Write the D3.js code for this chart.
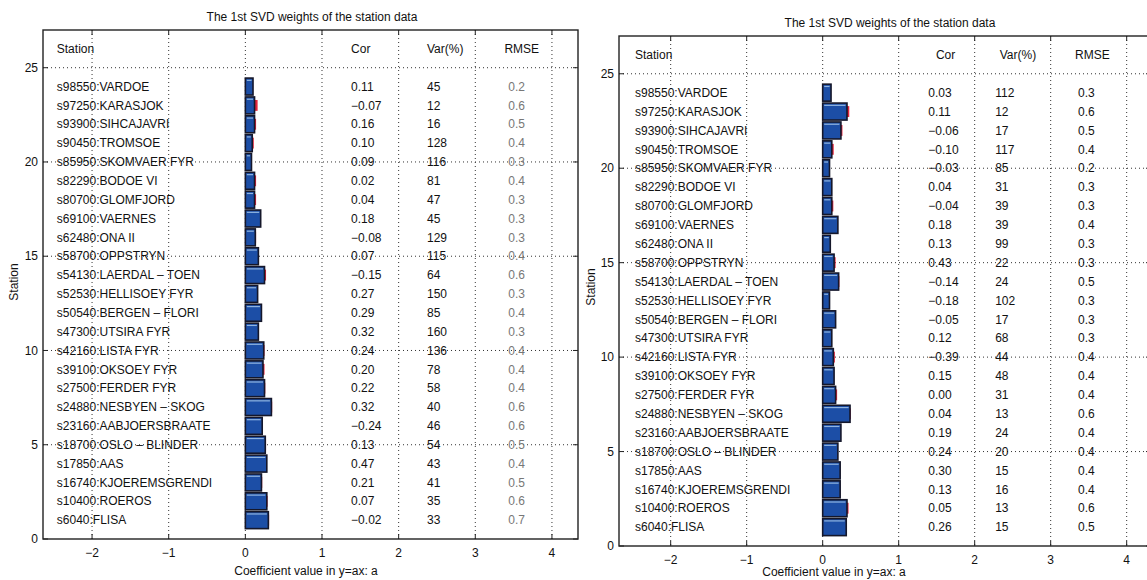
<!DOCTYPE html>
<html>
<head>
<meta charset="utf-8">
<script src="https://cdn.jsdelivr.net/npm/d3@7"></script>
<style>
  body { margin: 0; background: #fff; }
  text { font-family: "Liberation Sans", Arial, sans-serif; fill: #111; }
  .grid line { stroke: #333; stroke-width: 1; stroke-dasharray: 1,3; }
</style>
</head>
<body>
<svg id="chart" width="1147" height="580"></svg>
<script>
// station names, top row first
var stations = ["s98550:VARDOE", "s97250:KARASJOK", "s93900:SIHCAJAVRI", "s90450:TROMSOE",
  "s85950:SKOMVAER FYR", "s82290:BODOE VI", "s80700:GLOMFJORD", "s69100:VAERNES",
  "s62480:ONA II", "s58700:OPPSTRYN", "s54130:LAERDAL \u2013 TOEN", "s52530:HELLISOEY FYR",
  "s50540:BERGEN \u2013 FLORI", "s47300:UTSIRA FYR", "s42160:LISTA FYR", "s39100:OKSOEY FYR",
  "s27500:FERDER FYR", "s24880:NESBYEN \u2013 SKOG", "s23160:AABJOERSBRAATE", "s18700:OSLO \u2013 BLINDER",
  "s17850:AAS", "s16740:KJOEREMSGRENDI", "s10400:ROEROS", "s6040:FLISA"];

var xTicks = [-2, -1, 0, 1, 2, 3, 4];
var yTicks = [0, 5, 10, 15, 20, 25];
var headers = ["Cor", "Var(%)", "RMSE"];

// left figure
var leftCor = [0.11, -0.07, 0.16, 0.10, 0.09, 0.02, 0.04, 0.18, -0.08, 0.07, -0.15, 0.27,
  0.29, 0.32, 0.24, 0.20, 0.22, 0.32, -0.24, 0.13, 0.47, 0.21, 0.07, -0.02];
var leftVar = [45, 12, 16, 128, 116, 81, 47, 45, 129, 115, 64, 150,
  85, 160, 136, 78, 58, 40, 46, 54, 43, 41, 35, 33];
var leftRmse = [0.2, 0.6, 0.5, 0.4, 0.3, 0.4, 0.3, 0.3, 0.3, 0.4, 0.6, 0.3,
  0.4, 0.3, 0.4, 0.4, 0.4, 0.6, 0.6, 0.5, 0.4, 0.5, 0.6, 0.7];
var leftWeight = [0.10, 0.12, 0.12, 0.09, 0.08, 0.12, 0.12, 0.20, 0.13, 0.17, 0.25, 0.16,
  0.21, 0.17, 0.24, 0.23, 0.25, 0.34, 0.22, 0.26, 0.28, 0.21, 0.28, 0.30];
var leftUpper = [0.10, 0.16, 0.14, 0.11, 0.08, 0.14, 0.14, 0.20, 0.14, 0.17, 0.27, 0.16,
  0.21, 0.17, 0.25, 0.25, 0.26, 0.35, 0.22, 0.27, 0.28, 0.22, 0.29, 0.31];

// right figure
var rightCor = [0.03, 0.11, -0.06, -0.10, -0.03, 0.04, -0.04, 0.18, 0.13, 0.43, -0.14, -0.18,
  -0.05, 0.12, -0.39, 0.15, 0.00, 0.04, 0.19, 0.24, 0.30, 0.13, 0.05, 0.26];
var rightVar = [112, 12, 17, 117, 85, 31, 39, 39, 99, 22, 24, 102,
  17, 68, 44, 48, 31, 13, 24, 20, 15, 16, 13, 15];
var rightRmse = [0.3, 0.6, 0.5, 0.4, 0.2, 0.3, 0.3, 0.4, 0.3, 0.3, 0.5, 0.3,
  0.3, 0.3, 0.4, 0.4, 0.4, 0.6, 0.4, 0.4, 0.4, 0.4, 0.6, 0.5];
var rightWeight = [0.11, 0.32, 0.24, 0.12, 0.09, 0.12, 0.12, 0.20, 0.10, 0.15, 0.21, 0.09,
  0.17, 0.12, 0.14, 0.15, 0.17, 0.36, 0.24, 0.20, 0.23, 0.23, 0.32, 0.31];
var rightUpper = [0.11, 0.35, 0.26, 0.145, 0.09, 0.12, 0.14, 0.20, 0.10, 0.17, 0.22, 0.09,
  0.17, 0.12, 0.16, 0.15, 0.19, 0.37, 0.24, 0.20, 0.23, 0.23, 0.34, 0.31];

var svg = d3.select("#chart");
var fmtCor = function(v) { return d3.format(".2f")(v).replace("-", "\u2212"); };
var fmtTick = function(v) { return String(v).replace("-", "\u2212"); };

function panel(cfg) {
  var x = d3.scaleLinear().domain(cfg.xdom).range([cfg.left, cfg.right]);
  var y = d3.scaleLinear().domain([0, 27]).range([cfg.bottom, cfg.top]);
  var g = svg.append("g");
  var rowY = function(i) { return y(stations.length - i); };

  // dotted grid
  var grid = g.append("g").attr("class", "grid");
  grid.selectAll(".gx").data(xTicks).enter().append("line")
      .attr("x1", function(d) { return x(d); }).attr("x2", function(d) { return x(d); })
      .attr("y1", cfg.top).attr("y2", cfg.bottom);
  grid.selectAll(".gy").data(yTicks.slice(1)).enter().append("line")
      .attr("y1", function(d) { return y(d); }).attr("y2", function(d) { return y(d); })
      .attr("x1", cfg.left).attr("x2", cfg.right);

  // red tips behind, then the blue bars
  var bh = y(0) - y(0.9);
  g.selectAll(".tip").data(cfg.upper).enter().append("rect")
      .attr("x", x(0)).attr("y", function(d, i) { return rowY(i) - bh * 0.32; })
      .attr("width", function(d) { return x(d) - x(0); })
      .attr("height", bh * 0.64)
      .attr("fill", "#e3243b");
  var bars = g.selectAll(".bar").data(cfg.weight).enter().append("g");
  bars.append("rect")
      .attr("x", x(0)).attr("y", function(d, i) { return rowY(i) - bh / 2; })
      .attr("width", function(d) { return x(d) - x(0); })
      .attr("height", bh)
      .attr("fill", "#1c4ea6").attr("stroke", "#15172a").attr("stroke-width", 1.6);
  bars.append("line")
      .attr("x1", x(0) + 1.5).attr("x2", function(d) { return x(d) - 1.5; })
      .attr("y1", function(d, i) { return rowY(i) - bh / 2 + 2.3; })
      .attr("y2", function(d, i) { return rowY(i) - bh / 2 + 2.3; })
      .attr("stroke", "#8fb4e0").attr("stroke-width", 1.2);

  // table text
  g.append("text").attr("x", x(cfg.colStation)).attr("y", y(26)).attr("dy", "0.35em")
      .style("font-size", "12px").text("Station");
  headers.forEach(function(h, k) {
    g.append("text").attr("x", x(cfg.colHead[k])).attr("y", y(26)).attr("dy", "0.35em")
        .style("font-size", "12px").text(h);
  });
  var cols = [cfg.cor.map(fmtCor), cfg.vr.map(String), cfg.rmse.map(function(v) { return v.toFixed(1); })];
  stations.forEach(function(s, i) {
    g.append("text").attr("x", x(cfg.colStation)).attr("y", rowY(i)).attr("dy", "0.35em")
        .style("font-size", "12px").text(s);
    cols.forEach(function(c, k) {
      g.append("text").attr("x", x(cfg.colVal[k])).attr("y", rowY(i)).attr("dy", "0.35em")
          .style("font-size", "12px")
          .style("fill", k == 2 ? cfg.rmseColor : "#111")
          .text(c[i]);
    });
  });

  // box and inward ticks
  g.append("rect").attr("x", cfg.left).attr("y", cfg.top)
      .attr("width", cfg.right - cfg.left).attr("height", cfg.bottom - cfg.top)
      .attr("fill", "none").attr("stroke", "#222").attr("stroke-width", 1.4);
  var tl = 5;
  xTicks.forEach(function(t) {
    g.append("line").attr("x1", x(t)).attr("x2", x(t)).attr("y1", cfg.bottom).attr("y2", cfg.bottom - tl).attr("stroke", "#222");
    g.append("line").attr("x1", x(t)).attr("x2", x(t)).attr("y1", cfg.top).attr("y2", cfg.top + tl).attr("stroke", "#222");
    g.append("text").attr("x", x(t)).attr("y", cfg.bottom + 18).attr("text-anchor", "middle")
        .style("font-size", "12px").text(fmtTick(t));
  });
  yTicks.forEach(function(t) {
    g.append("line").attr("x1", cfg.left).attr("x2", cfg.left + tl).attr("y1", y(t)).attr("y2", y(t)).attr("stroke", "#222");
    g.append("line").attr("x1", cfg.right).attr("x2", cfg.right - tl).attr("y1", y(t)).attr("y2", y(t)).attr("stroke", "#222");
    g.append("text").attr("x", cfg.left - 5).attr("y", y(t)).attr("dy", "0.35em").attr("text-anchor", "end")
        .style("font-size", "12px").text(t);
  });

  // titles
  g.append("text").attr("x", cfg.titleX).attr("y", cfg.titleY).attr("text-anchor", "middle")
      .style("font-size", "12px").text("The 1st SVD weights of the station data");
  g.append("text").attr("x", cfg.xlabX).attr("y", cfg.xlabY).attr("text-anchor", "middle")
      .style("font-size", "12px").text("Coefficient value in y=ax: a");
  g.append("text").attr("transform", "translate(" + cfg.ylabX + "," + cfg.ylabY + ")rotate(-90)")
      .attr("text-anchor", "middle").style("font-size", "12px").text("Station");
}

panel({
  left: 43, right: 578, top: 30, bottom: 539, xdom: [-2.64, 4.34],
  cor: leftCor, vr: leftVar, rmse: leftRmse, weight: leftWeight, upper: leftUpper,
  colStation: -2.46, colHead: [1.38, 2.37, 3.38], colVal: [1.38, 2.37, 3.43],
  rmseColor: "#777",
  titleX: 312, titleY: 21, xlabX: 306, xlabY: 575, ylabX: 18, ylabY: 282
});

panel({
  left: 619, right: 1151, top: 36, bottom: 546, xdom: [-2.68, 4.32],
  cor: rightCor, vr: rightVar, rmse: rightRmse, weight: rightWeight, upper: rightUpper,
  colStation: -2.47, colHead: [1.49, 2.33, 3.32], colVal: [1.39, 2.27, 3.36],
  rmseColor: "#111",
  titleX: 890, titleY: 27, xlabX: 834, xlabY: 576, ylabX: 595, ylabY: 287
});
</script>
</body>
</html>
